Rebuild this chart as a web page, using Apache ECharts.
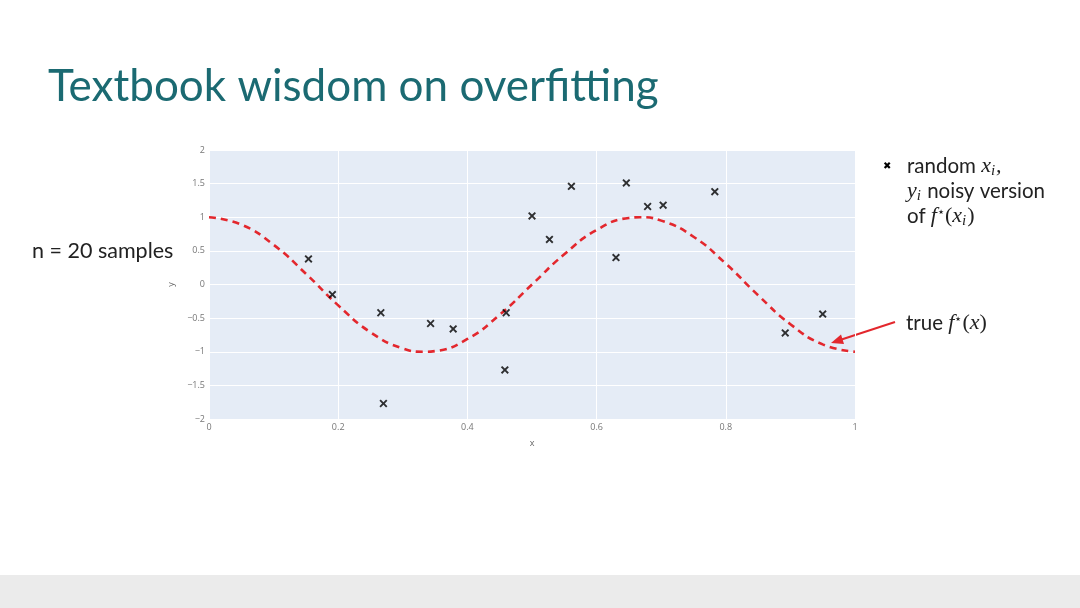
<!DOCTYPE html>
<html lang="en">
<head>
    <meta charset="UTF-8">
    <title>Textbook wisdom on overfitting</title>
    <script src="https://cdn.jsdelivr.net/npm/echarts@6/dist/echarts.min.js"></script>
    <style>
        html, body { margin: 0; padding: 0; background: #fff; }
    </style>
</head>
<body>
<div id="main" style="width: 1080px;height:608px;"></div>
<script>
    // true f*(x)
    var curveX = [0, 0.05, 0.1, 0.15, 0.2, 0.25, 0.3, 0.333, 0.35, 0.4, 0.45, 0.5,
        0.55, 0.6, 0.65, 0.667, 0.7, 0.75, 0.8, 0.85, 0.9, 0.95, 1];
    var curveY = [1, 0.89, 0.59, 0.16, -0.31, -0.71, -0.95, -1, -0.99, -0.81, -0.45, 0,
        0.45, 0.81, 0.99, 1, 0.95, 0.71, 0.31, -0.16, -0.59, -0.89, -1];

    // noisy samples
    var sampleX = [0.154, 0.191, 0.266, 0.270, 0.343, 0.378, 0.460, 0.458, 0.500,
        0.527, 0.561, 0.630, 0.646, 0.679, 0.703, 0.783, 0.892, 0.950];
    var sampleY = [0.38, -0.15, -0.42, -1.77, -0.58, -0.66, -0.42, -1.27, 1.02,
        0.67, 1.46, 0.40, 1.51, 1.16, 1.18, 1.38, -0.72, -0.44];

    var xMark = 'path://M0,1 L1,0 L3,2 L5,0 L6,1 L4,3 L6,5 L5,6 L3,4 L1,6 L0,5 L2,3 Z';

    var myChart = echarts.init(document.getElementById('main'));

    var fmt = function (v) {
        return String(v).replace('-', '\u2212');
    };

    var mathRich = {
        m: {fontFamily: 'Liberation Serif', fontStyle: 'italic', fontSize: 22, lineHeight: 25, fill: '#222'},
        sub: {fontFamily: 'Liberation Serif', fontStyle: 'italic', fontSize: 15, padding: [9, 1, 0, 0], lineHeight: 14, fill: '#222'},
        sup: {fontFamily: 'Liberation Serif', fontSize: 13, padding: [0, 0, 8, 0], lineHeight: 13, fill: '#222'},
        p: {fontFamily: 'Liberation Serif', fontSize: 22, lineHeight: 25, fill: '#222'}
    };

    var option = {
        backgroundColor: '#ffffff',
        animation: false,
        textStyle: {fontFamily: 'Open Sans'},
        grid: {left: 209, top: 150, width: 646, height: 269, show: true, backgroundColor: '#e5ecf6', borderWidth: 0},
        xAxis: {
            type: 'value', min: 0, max: 1, interval: 0.2,
            name: 'x', nameLocation: 'middle', nameGap: 20,
            nameTextStyle: {color: '#666', fontSize: 9},
            axisLine: {show: false}, axisTick: {show: false},
            axisLabel: {color: '#777', fontSize: 9, margin: 4, formatter: fmt},
            splitLine: {lineStyle: {color: '#ffffff', width: 1}}
        },
        yAxis: {
            type: 'value', min: -2, max: 2, interval: 0.5,
            name: 'y', nameLocation: 'middle', nameGap: 25,
            nameTextStyle: {color: '#666', fontSize: 9},
            axisLine: {show: false}, axisTick: {show: false},
            axisLabel: {color: '#777', fontSize: 9, margin: 4, formatter: fmt},
            splitLine: {lineStyle: {color: '#ffffff', width: 1}}
        },
        series: [
            {
                type: 'line',
                data: curveX.map(function (x, i) { return [x, curveY[i]]; }),
                smooth: true,
                showSymbol: false,
                lineStyle: {color: '#e3272d', width: 2.6, type: [7, 5]},
                z: 2
            },
            {
                type: 'scatter',
                data: sampleX.map(function (x, i) { return [x, sampleY[i]]; }),
                symbol: xMark,
                symbolSize: 8,
                itemStyle: {color: '#000'},
                z: 3
            }
        ],
        graphic: [
            {type: 'rect', shape: {x: 0, y: 575, width: 1080, height: 33}, style: {fill: '#ebebeb'}, silent: true},
            {
                type: 'text', x: 48, y: 65,
                style: {text: 'Textbook wisdom on overfitting', fontFamily: 'Lato', fontSize: 44, fill: '#1b6a72'}
            },
            {
                type: 'text', x: 32, y: 240,
                style: {text: 'n = 20 samples', fontFamily: 'Lato', fontSize: 21.5, fill: '#222'}
            },
            {
                type: 'text', x: 883, y: 161,
                style: {text: '\u2716', fontSize: 10, fill: '#000'}
            },
            {
                type: 'text', x: 907, y: 154,
                style: {
                    text: 'random {m|x}{sub|i}{m|,}\n{m|y}{sub|i} noisy version\nof {m|f}{sup|\u22c6}{p|(}{m|x}{sub|i}{p|)}',
                    fontFamily: 'Lato', fontSize: 20.5, lineHeight: 25, fill: '#222',
                    rich: mathRich
                }
            },
            {
                type: 'text', x: 906, y: 311,
                style: {
                    text: 'true {m|f}{sup|\u22c6}{p|(}{m|x}{p|)}',
                    fontFamily: 'Lato', fontSize: 20.5, lineHeight: 25, fill: '#222',
                    rich: mathRich
                }
            },
            {
                type: 'line', shape: {x1: 895, y1: 322, x2: 840, y2: 340},
                style: {stroke: '#e3272d', lineWidth: 2}
            },
            {
                type: 'polygon',
                shape: {points: [[831, 343], [844, 344], [841, 334.5]]},
                style: {fill: '#e3272d'}
            }
        ]
    };
    myChart.setOption(option);
</script>
</body>
</html>
